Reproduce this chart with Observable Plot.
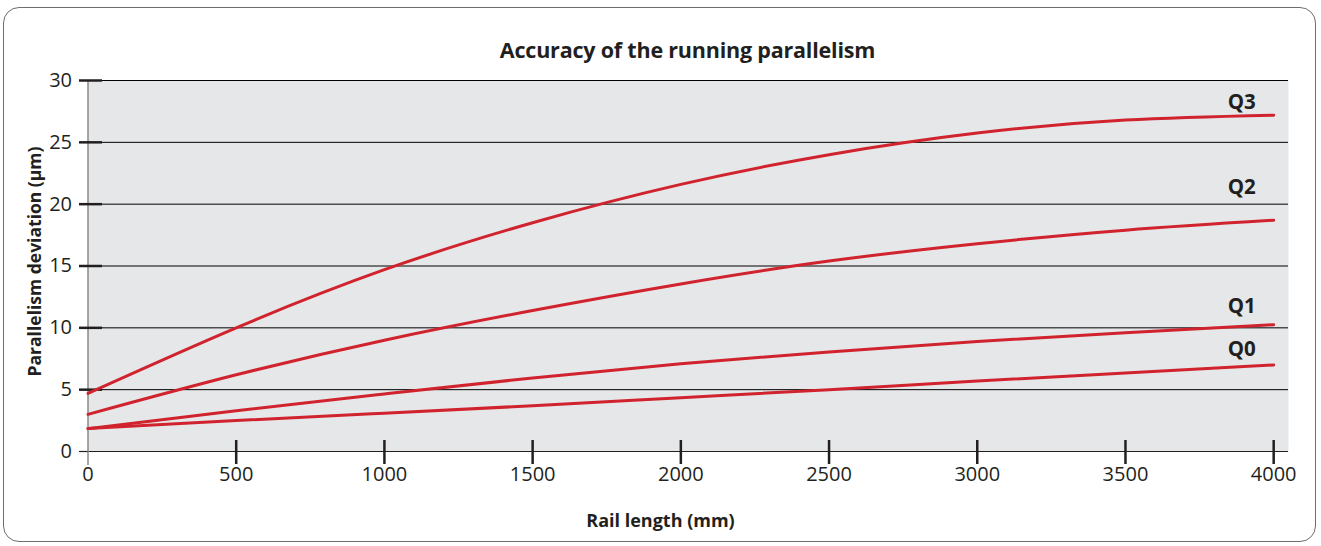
<!DOCTYPE html>
<html>
<head>
<meta charset="utf-8">
<script src="https://cdn.jsdelivr.net/npm/d3@7"></script>
<script src="https://cdn.jsdelivr.net/npm/@observablehq/plot@0.6"></script>
<style>
  html, body { margin: 0; padding: 0; background: #fff; }
  #wrap { position: relative; width: 1321px; height: 546px; overflow: hidden; font-family: "Open Sans", sans-serif; color: #231f20; }
  #border { position: absolute; left: 3px; top: 7px; width: 1313px; height: 535px; border: 1.3px solid #6e6e6e; border-radius: 16px; box-sizing: border-box; }
  #title { position: absolute; left: 0; width: 1375px; top: 36px; text-align: center; font-weight: 700; font-size: 21.5px; line-height: 28px; letter-spacing: -0.2px; }
  #chart { position: absolute; left: 0; top: 60px; }
</style>
</head>
<body>
<div id="wrap">
  <div id="border"></div>
  <div id="title">Accuracy of the running parallelism</div>
  <div id="chart"></div>
</div>
<script>
// Rail length (mm)
const railLength = [0, 500, 1000, 1500, 2000, 2500, 3000, 3500, 4000];
// Parallelism deviation (µm) per accuracy class
const seriesNames = ["Q0", "Q1", "Q2", "Q3"];
const q0 = [1.85, 2.5, 3.1, 3.7, 4.35, 5.0, 5.7, 6.35, 7.0];
const q1 = [1.85, 3.3, 4.65, 5.95, 7.1, 8.05, 8.9, 9.6, 10.25];
const q2 = [3.0, 6.2, 9.0, 11.4, 13.55, 15.4, 16.8, 17.9, 18.7];
const q3 = [4.7, 10.0, 14.7, 18.5, 21.6, 24.0, 25.75, 26.8, 27.2];
// where each class label sits (value units)
const labelLevel = [7.7, 11.2, 20.85, 27.7];
const xTicks = [0, 500, 1000, 1500, 2000, 2500, 3000, 3500, 4000];
const yTicks = [0, 5, 10, 15, 20, 25, 30];

const seriesValues = [q0, q1, q2, q3];
const rows = seriesNames.flatMap((s, i) => railLength.map((x, j) => ({s, x, y: seriesValues[i][j]})));
const labels = seriesNames.map((s, i) => ({s, x: railLength[railLength.length - 1], y: labelLevel[i]}));

const ink = "#231f20";
const red = "#d1232e";
const plain = d => String(d);

const chart = Plot.plot({
  width: 1321,
  height: 486,
  marginLeft: 87.5,
  marginRight: 33,
  marginTop: 20,
  marginBottom: 95,
  x: {domain: [0, 4050]},
  y: {domain: [0, 30]},
  style: {fontFamily: "'Open Sans', sans-serif", color: ink, background: "transparent", overflow: "visible"},
  marks: [
    Plot.frame({fill: "#e6e7e9", stroke: null}),
    Plot.ruleY(yTicks.filter(d => d > 0), {stroke: "#000", strokeWidth: 1}),
    Plot.ruleY([0], {stroke: ink, strokeWidth: 1.2}),
    Plot.ruleX([0], {stroke: "#8a8a8a", strokeWidth: 1.5, insetBottom: -14}),
    Plot.axisY(yTicks.filter(d => d > 0), {tickSize: 23, dx: 14.5, fill: null, stroke: ink, strokeWidth: 2.5, label: null}),
    Plot.axisY([0], {tickSize: 8.5, fill: null, stroke: ink, strokeWidth: 1.2, label: null}),
    Plot.axisY(yTicks, {tickSize: 0, tickPadding: 16, fontSize: 20, fill: ink, label: null, tickFormat: plain}),
    Plot.axisX(xTicks.filter(d => d > 0), {tickSize: 24, dy: -11, fill: null, stroke: ink, strokeWidth: 2.5, label: null}),
    Plot.axisX(xTicks, {tickSize: 0, tickPadding: 15, fontSize: 20, fill: ink, label: null, tickFormat: plain}),
    Plot.line(rows, {x: "x", y: "y", z: "s", stroke: red, strokeWidth: 3, curve: "natural"}),
    Plot.text(labels, {x: "x", y: "y", text: "s", dx: -18, textAnchor: "end", lineAnchor: "bottom", fontWeight: "bold", fontSize: 20.5, fill: ink}),
    Plot.text(["Parallelism deviation (μm)"], {text: d => d, frameAnchor: "left", textAnchor: "middle", lineAnchor: "middle", rotate: -90, dx: -52.5, dy: -4.5, fontWeight: "bold", fontSize: 17.5, fill: ink}),
    Plot.text(["Rail length (mm)"], {text: d => d, frameAnchor: "bottom", textAnchor: "middle", lineAnchor: "middle", dx: -27.75, dy: 70, fontWeight: "bold", fontSize: 18, fill: ink})
  ]
});
document.getElementById("chart").appendChild(chart);
</script>
</body>
</html>
